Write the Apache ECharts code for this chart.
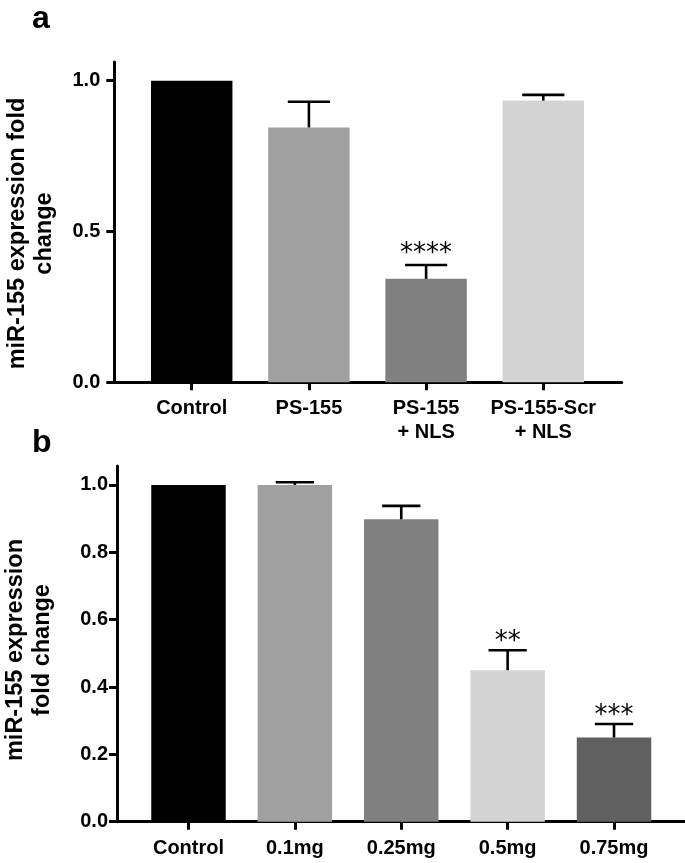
<!DOCTYPE html>
<html>
<head>
<meta charset="utf-8">
<script src="https://cdn.jsdelivr.net/npm/echarts@6/dist/echarts.min.js"></script>
<style>
html,body{margin:0;padding:0;background:#fff;}
#c{width:685px;height:863px;}
</style>
</head>
<body>
<div id="c"></div>
<script>
// ---- Data: panel a ----
const catsA = ['Control', 'PS-155', 'PS-155\n+ NLS', 'PS-155-Scr\n+ NLS'];
const valsA = [1.0, 0.845, 0.343, 0.934];
const errA = [0, 0.085, 0.046, 0.019];
const sigA = ['', '', '****', ''];
const yTicksA = [0, 0.5, 1.0];

// ---- Data: panel b ----
const catsB = ['Control', '0.1mg', '0.25mg', '0.5mg', '0.75mg'];
const valsB = [1.0, 1.0, 0.898, 0.45, 0.25];
const errB = [0, 0.008, 0.04, 0.059, 0.04];
const sigB = ['', '', '', '**', '***'];
const yTicksB = [0, 0.2, 0.4, 0.6, 0.8, 1.0];

// ---- Styles ----
const colorsA = ['#000000', '#a0a0a0', '#808080', '#d3d3d3'];
const colorsB = ['#000000', '#a0a0a0', '#808080', '#d3d3d3', '#606060'];
const FONT = '"Liberation Sans", Arial, sans-serif';
const MAX_A = 1.062, MAX_B = 1.056;

const chart = echarts.init(document.getElementById('c'), null, {renderer: 'canvas'});

function errSeries(xi, yi, vals, errs, sigs, gap) {
  return {
    type: 'custom', xAxisIndex: xi, yAxisIndex: yi, z: 5, clip: false, silent: true,
    data: vals.map((v, i) => [i, v, errs[i]]),
    renderItem: function (params, api) {
      const i = api.value(0), m = api.value(1), e = api.value(2);
      const base = api.coord([i, m]);
      const top = api.coord([i, m + e]);
      const half = api.size([1, 0])[0] * 0.18;
      const children = [];
      if (e > 0) {
        children.push({type: 'line', shape: {x1: base[0], y1: base[1], x2: top[0], y2: top[1]}, style: {stroke: '#000', lineWidth: 2.6}});
        children.push({type: 'line', shape: {x1: top[0] - half, y1: top[1], x2: top[0] + half, y2: top[1]}, style: {stroke: '#000', lineWidth: 2.6}});
      }
      const s = sigs[params.dataIndex];
      if (s) {
        children.push({type: 'text', x: top[0], y: top[1] - gap, style: {text: s, font: '26px "DejaVu Sans"', fill: '#000', textAlign: 'center', textVerticalAlign: 'bottom'}});
      }
      return {type: 'group', children: children};
    }
  };
}

const axisLineStyle = {show: true, lineStyle: {color: '#000', width: 3}};
const labelFmt = v => v.toFixed(1);

const option = {
  animation: false,
  backgroundColor: '#fff',
  grid: [
    {left: 114.3, top: 62, width: 507.4, height: 320.3, containLabel: false, outerBoundsMode: 'none'},
    {left: 133.1, top: 62, width: 468.8, height: 320.3, containLabel: false, outerBoundsMode: 'none'},
    {left: 117, top: 466.1, width: 570, height: 355.6, containLabel: false, outerBoundsMode: 'none'},
    {left: 135.3, top: 466.1, width: 531.9, height: 355.6, containLabel: false, outerBoundsMode: 'none'}
  ],
  xAxis: [
    {gridIndex: 0, type: 'value', min: 0, max: 1, axisLine: axisLineStyle, axisTick: {show: false}, axisLabel: {show: false}, splitLine: {show: false}},
    {gridIndex: 1, type: 'category', data: catsA, axisLine: {show: false},
      axisTick: {show: true, alignWithLabel: true, length: 8, lineStyle: {color: '#000', width: 3}},
      axisLabel: {color: '#000', fontFamily: FONT, fontWeight: 'bold', fontSize: 20, lineHeight: 24, margin: 14, interval: 0},
      splitLine: {show: false}},
    {gridIndex: 2, type: 'value', min: 0, max: 1, axisLine: axisLineStyle, axisTick: {show: false}, axisLabel: {show: false}, splitLine: {show: false}},
    {gridIndex: 3, type: 'category', data: catsB, axisLine: {show: false},
      axisTick: {show: true, alignWithLabel: true, length: 8, lineStyle: {color: '#000', width: 3}},
      axisLabel: {color: '#000', fontFamily: FONT, fontWeight: 'bold', fontSize: 20, lineHeight: 24, margin: 15, interval: 0},
      splitLine: {show: false}}
  ],
  yAxis: [
    {gridIndex: 0, type: 'value', min: 0, max: MAX_A, axisLine: axisLineStyle,
      axisTick: {show: true, length: 8, lineStyle: {color: '#000', width: 3}, customValues: yTicksA},
      axisLabel: {color: '#000', fontFamily: FONT, fontWeight: 'bold', fontSize: 20, margin: 14, customValues: yTicksA, formatter: labelFmt},
      splitLine: {show: false}},
    {gridIndex: 1, type: 'value', min: 0, max: MAX_A, show: false},
    {gridIndex: 2, type: 'value', min: 0, max: MAX_B, axisLine: axisLineStyle,
      axisTick: {show: true, length: 8, lineStyle: {color: '#000', width: 3}, customValues: yTicksB},
      axisLabel: {color: '#000', fontFamily: FONT, fontWeight: 'bold', fontSize: 20, margin: 9, customValues: yTicksB, formatter: labelFmt},
      splitLine: {show: false}},
    {gridIndex: 3, type: 'value', min: 0, max: MAX_B, show: false}
  ],
  series: [
    {type: 'bar', xAxisIndex: 1, yAxisIndex: 1, barWidth: '69.5%', z: 2,
      data: valsA.map((v, i) => ({value: v, itemStyle: {color: colorsA[i]}}))},
    errSeries(1, 1, valsA, errA, sigA, -2),
    {type: 'bar', xAxisIndex: 3, yAxisIndex: 3, barWidth: '70%', z: 2,
      data: valsB.map((v, i) => ({value: v, itemStyle: {color: colorsB[i]}}))},
    errSeries(3, 3, valsB, errB, sigB, -5)
  ],
  graphic: [
    {type: 'text', x: 32, y: 19, style: {text: 'a', font: 'bold 32px ' + FONT, fill: '#000', textVerticalAlign: 'middle'}},
    {type: 'text', x: 32, y: 443, style: {text: 'b', font: 'bold 32px ' + FONT, fill: '#000', textVerticalAlign: 'middle'}},
    {type: 'text', x: 31, y: 233.5, rotation: Math.PI / 2,
      style: {text: 'miR-155 expression fold\nchange', font: 'bold 23.5px ' + FONT, lineHeight: 27, fill: '#000', textAlign: 'center', textVerticalAlign: 'middle'}},
    {type: 'text', x: 29, y: 650, rotation: Math.PI / 2,
      style: {text: 'miR-155 expression\nfold change', font: 'bold 23.5px ' + FONT, lineHeight: 27, fill: '#000', textAlign: 'center', textVerticalAlign: 'middle'}}
  ]
};
chart.setOption(option);
</script>
</body>
</html>
